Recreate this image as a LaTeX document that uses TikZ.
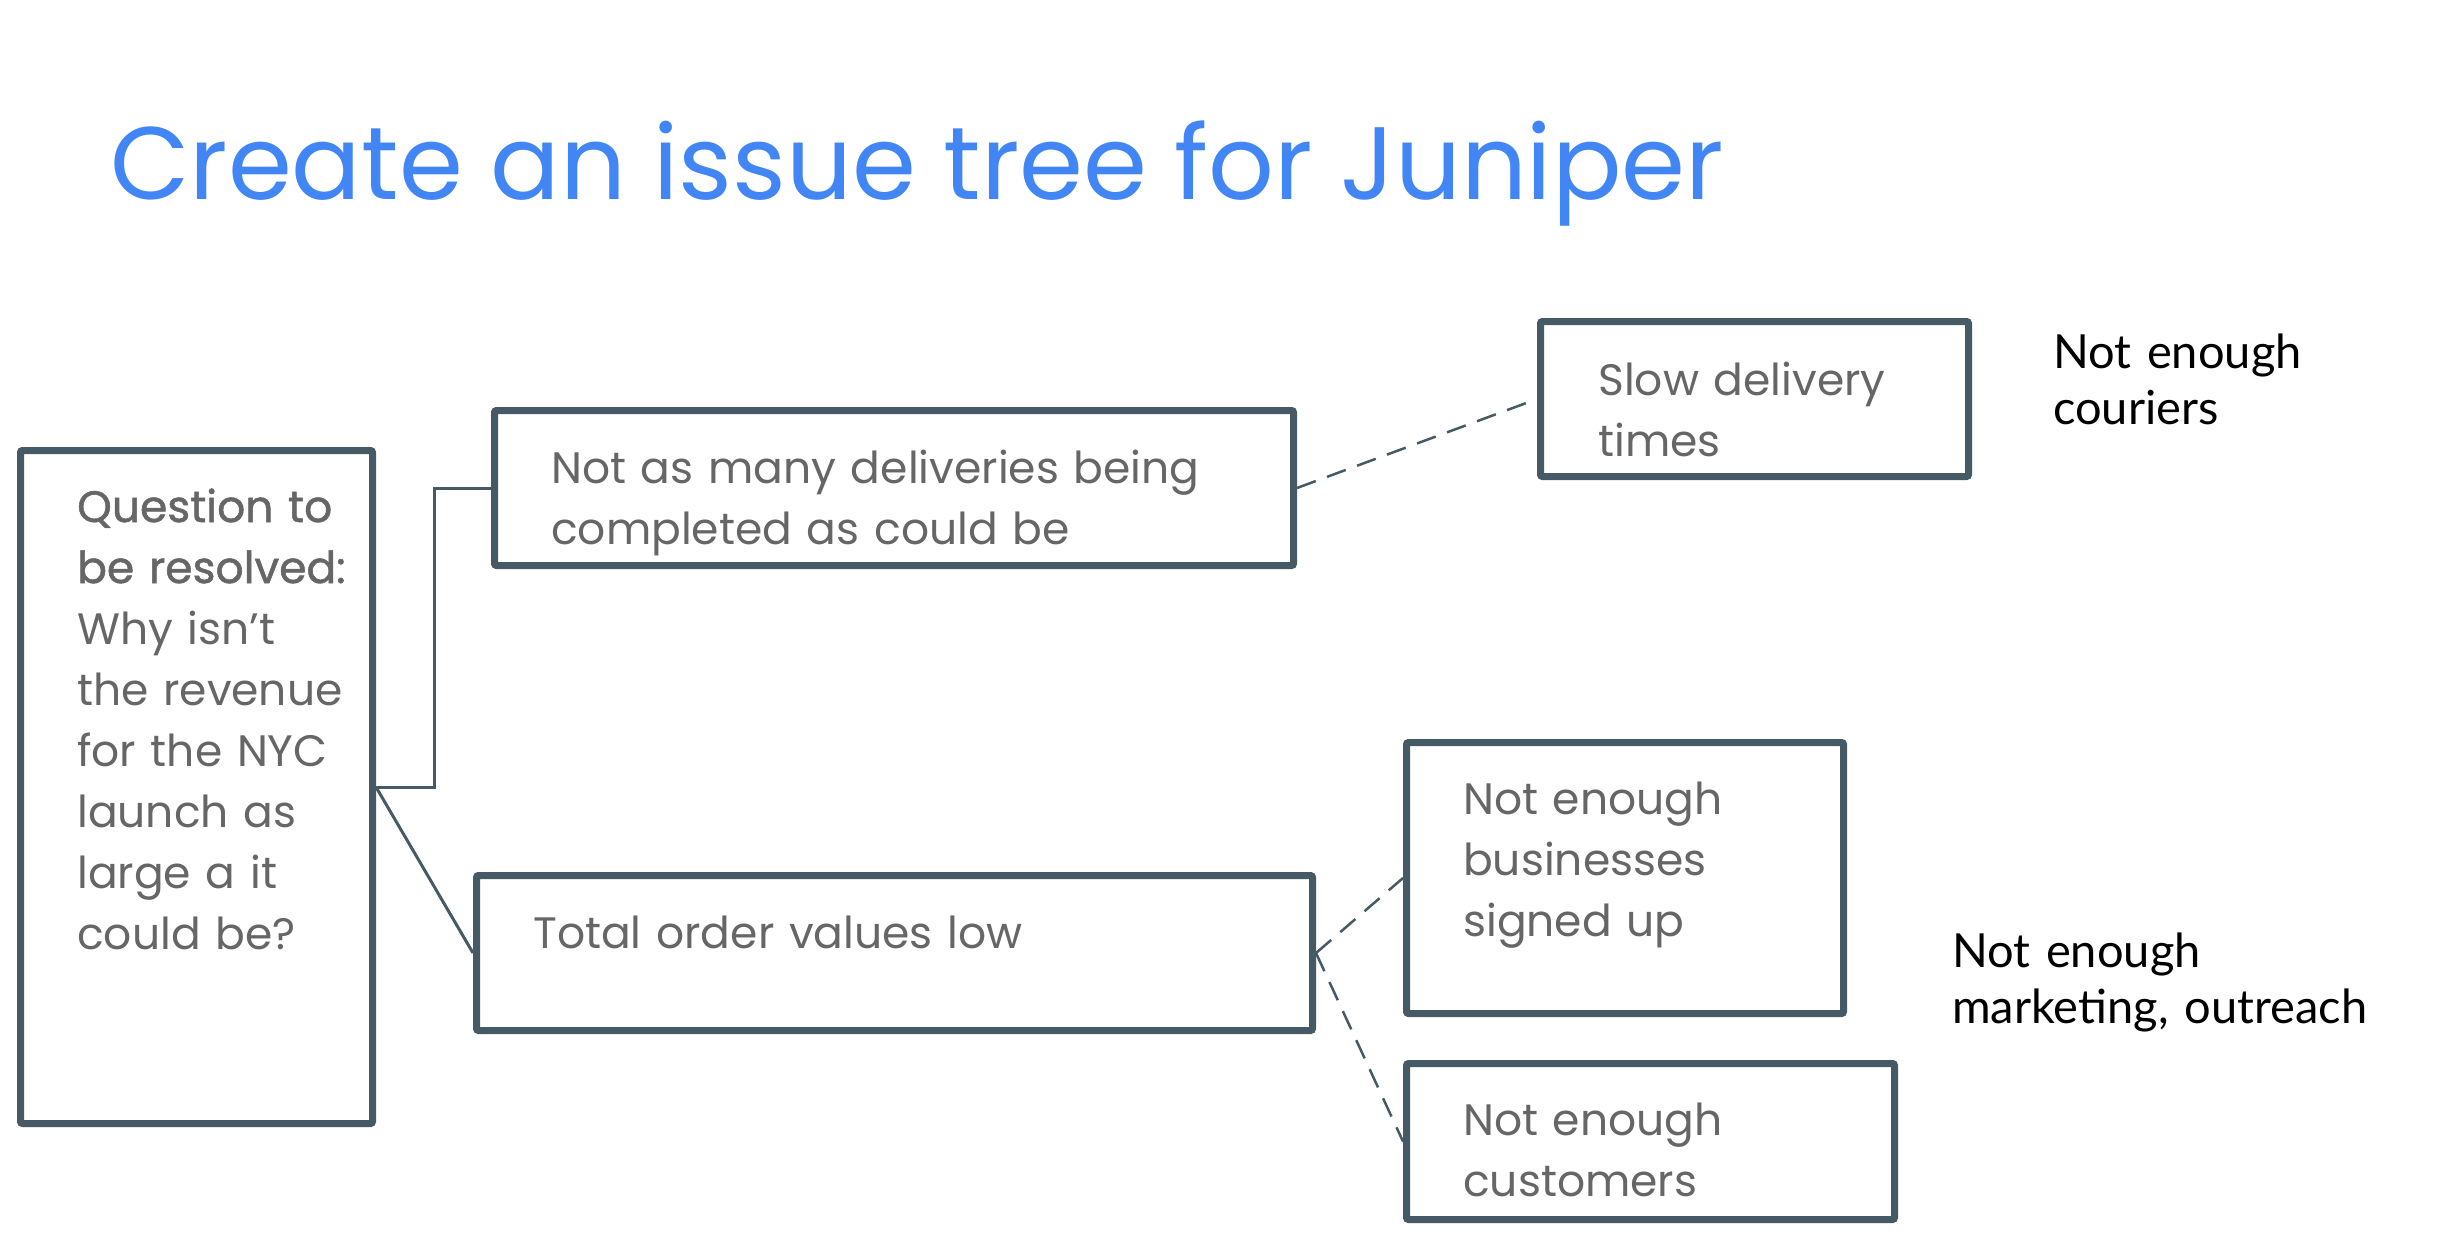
\documentclass[tikz,border=0pt]{standalone}
\usepackage{fontspec}
\setmainfont{Poppins}
\newfontfamily\notefont{Lato}
\usetikzlibrary{calc}
\definecolor{titleblue}{HTML}{4285F4}
\definecolor{slate}{HTML}{455A64}
\definecolor{textgray}{HTML}{666666}
\tikzset{
  box/.style={draw=slate, line width=7pt, rounded corners=2pt, inner sep=0pt},
  boxtext/.style={anchor=base west, inner sep=0pt, text width=840pt, align=left,
    text=textgray, font=\fontsize{44}{61}\selectfont},
  note/.style={anchor=base west, inner sep=0pt, text width=600pt, align=left,
    text=black, font=\notefont\fontsize{47}{56}\selectfont},
  conn/.style={draw=slate, line width=3pt},
  dashconn/.style={draw=slate, line width=2.5pt, dash pattern=on 20pt off 12pt},
}
\begin{document}
\begin{tikzpicture}[x=1pt, y=-1pt]
  \useasboundingbox (0,0) rectangle (2440,1242);

  % heading
  \node[anchor=base west, inner sep=0pt, text=titleblue,
        font=\fontsize{103}{120}\selectfont] (title) at (110,199)
        {Create an issue tree for Juniper};

  % boxes of the tree
  \node[box, minimum width=352pt, minimum height=673pt] (q)  at (196.5,787) {};
  \node[box, minimum width=799pt, minimum height=155pt] (b1) at (894,488) {};
  \node[box, minimum width=836pt, minimum height=155pt] (b2) at (894.5,953) {};
  \node[box, minimum width=428pt, minimum height=155pt] (b3) at (1754.5,399) {};
  \node[box, minimum width=437pt, minimum height=271pt] (b4) at (1625,878) {};
  \node[box, minimum width=488pt, minimum height=156pt] (b5) at (1650.5,1141.5) {};

  % box texts
  \node[boxtext] (qt) at (77,522)
    {{\addfontfeatures{FakeBold=1.2}Question to\\be resolved:}\\Why isn’t\\the revenue\\for the NYC\\launch as\\large a it\\could be?};
  \node[boxtext] (t1) at (551,483) {Not as many deliveries being\\completed as could be};
  \node[boxtext] (t2) at (533,948) {Total order values low};
  \node[boxtext] (t3) at (1598,395) {Slow delivery\\times};
  \node[boxtext] (t4) at (1463,814) {Not enough\\businesses\\signed up};
  \node[boxtext] (t5) at (1463,1135) {Not enough\\customers};

  % side notes
  \node[note] (n1) at (2053,368) {Not enough\\couriers};
  \node[note] (n2) at (1952,967) {Not enough\\marketing, outreach};

  % connectors
  \coordinate (ex) at (434,0);
  \draw[conn] (q.east) -| (ex |- b1.west) -- (b1.west);
  \draw[conn] (q.east) -- (b2.west);
  \draw[dashconn] (b1.east) -- (b3.west);
  \draw[dashconn] (b2.east) -- (b4.west);
  \draw[dashconn] (b2.east) -- (b5.west);
\end{tikzpicture}
\end{document}
